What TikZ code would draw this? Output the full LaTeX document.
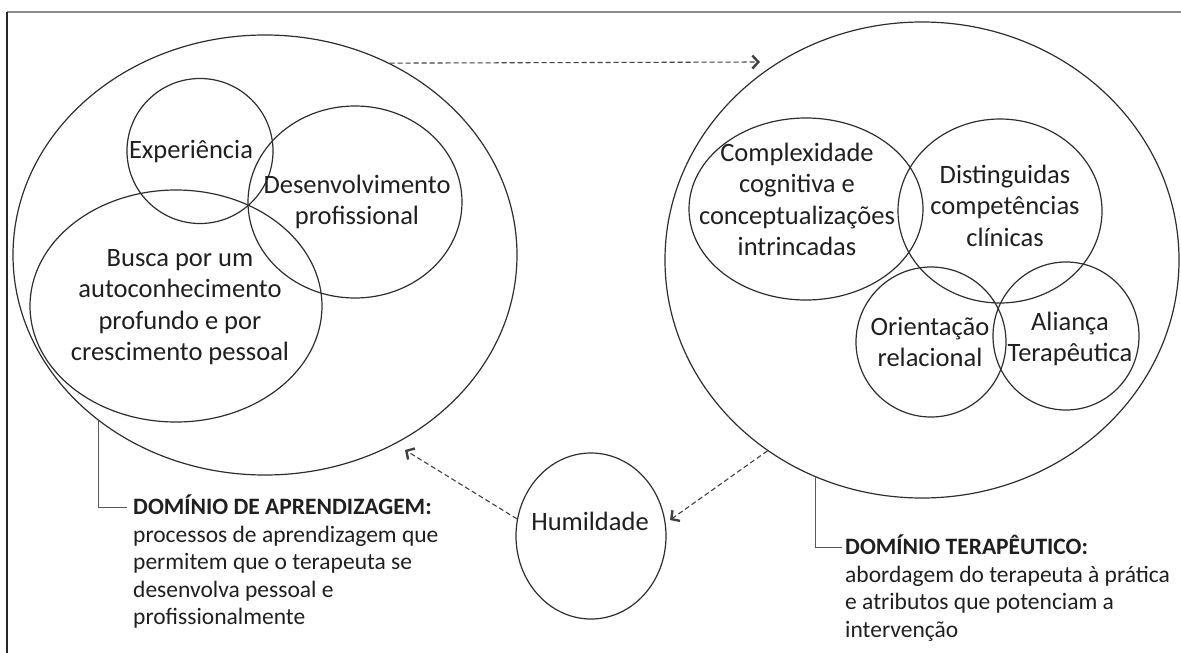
\documentclass[tikz,border=0pt]{standalone}
\usepackage{fontspec}
\setmainfont{Carlito}
\usetikzlibrary{shapes.geometric,arrows.meta}
\newcommand\mlc[1]{\begin{tabular}[t]{@{}c@{}}#1\end{tabular}}
\newcommand\mll[1]{\begin{tabular}[t]{@{}l@{}}#1\end{tabular}}
\begin{document}
\begin{tikzpicture}[x=1pt,y=-1pt,
  circ/.style={draw=black!82, line width=1.2pt, ellipse, inner sep=0pt},
  ctext/.style={anchor=base, inner sep=0pt, text=black!88, font=\fontsize{26.5}{31.5}\selectfont},
  ltext/.style={anchor=base west, inner sep=0pt, text=black!88, font=\fontsize{23.5}{27.5}\selectfont},
  darr/.style={draw=black!75, line width=1.1pt, dash pattern=on 5pt off 3pt,
    -{Straight Barb[length=6pt,width=13pt,line width=2.4pt]}},
  callout/.style={draw=black!65, line width=1pt}
]
\useasboundingbox (0,0) rectangle (1181,653);
% frame
\draw[black!45, line width=1.6pt] (7,12) -- (1181,12);
\draw[black!85, line width=1.2pt] (7,12) -- (7,653);

% left domain
\node[circ, minimum width=504pt, minimum height=440pt] (L) at (265,255) {};
\node[circ, minimum width=146pt, minimum height=145pt] (E) at (200,151) {};
\node[circ, minimum width=214pt, minimum height=192pt] (D) at (355,202) {};
\node[circ, minimum width=292pt, minimum height=232pt] (B) at (176,306) {};
\node[ctext] (tE) at (191,158) {Experiência};
\node[ctext] (tD) at (357,193) {\mlc{Desenvolvimento\\profissional}};
\node[ctext] (tB) at (180,266) {\mlc{Busca por um\\autoconhecimento\\profundo e por\\crescimento pessoal}};

% right domain
\node[circ, minimum width=514pt, minimum height=476pt] (R) at (922,260) {};
\node[circ, minimum width=234pt, minimum height=182pt] (C) at (806,209) {};
\node[circ, minimum width=204pt, minimum height=184pt] (Di) at (1000,211) {};
\node[circ, minimum width=150pt, minimum height=150pt] (O) at (931,342) {};
\node[circ, minimum width=146pt, minimum height=148pt] (A) at (1066,336) {};
\node[ctext] (tC) at (797,161) {\mlc{Complexidade\\cognitiva e\\conceptualizações\\intrincadas}};
\node[ctext] (tDi) at (1005,183) {\mlc{Distinguidas\\competências\\clínicas}};
\node[ctext] (tO) at (930,335) {\mlc{Orientação\\relacional}};
\node[ctext] (tA) at (1070,330) {\mlc{Aliança\\Terapêutica}};

% humility
\node[circ, minimum width=150pt, minimum height=166pt] (H) at (591,536) {};
\node[ctext] (tH) at (590,530) {Humildade};

% arrows
\coordinate (tipR) at (760,62);
\coordinate (tipH) at (670,520);
\coordinate (tipL) at (405,450);
\draw[darr] (L.57.5) -- (tipR);
\draw[darr] (R.231.1) -- (tipH);
\draw[darr] (H.167) -- (tipL);

% labels
\coordinate (cL) at (127,507);
\coordinate (cR) at (842,547);
\draw[callout] (L.-135.3) |- (cL);
\draw[callout] (R.-116.8) |- (cR);
\node[ltext] (labL) at (133,514.5) {\mll{\textbf{DOMÍNIO DE APRENDIZAGEM:}\\processos de aprendizagem que\\permitem que o terapeuta se\\desenvolva pessoal e\\profissionalmente}};
\node[ltext] (labR) at (845,554.5) {\mll{\textbf{DOMÍNIO TERAPÊUTICO:}\\abordagem do terapeuta à prática\\e atributos que potenciam a\\intervenção}};
\end{tikzpicture}
\end{document}
